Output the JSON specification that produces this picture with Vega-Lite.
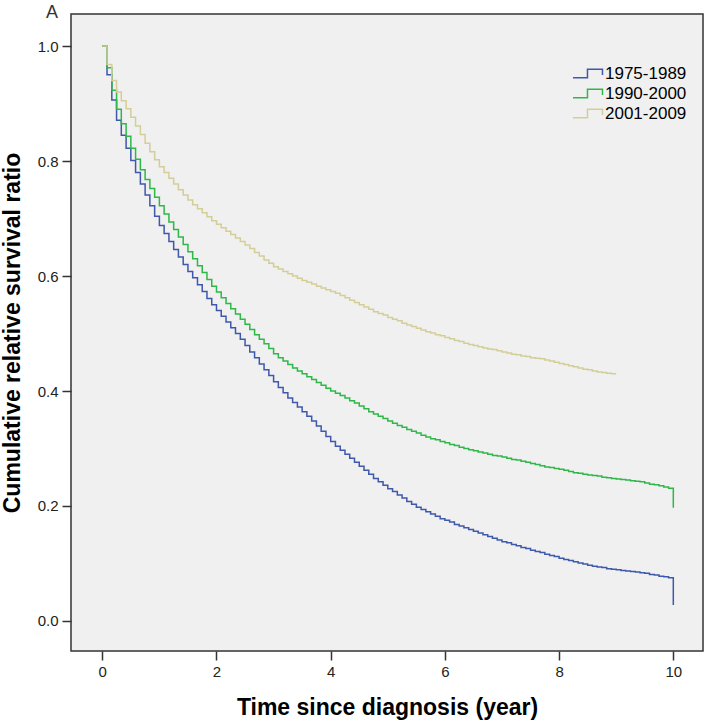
{
  "$schema": "https://vega.github.io/schema/vega-lite/v6.json",
  "width": 632,
  "height": 637,
  "autosize": {"type": "none"},
  "padding": {"left": 71, "top": 14, "right": 4, "bottom": 72},
  "background": "#ffffff",
  "title": {"text": "A", "anchor": "start", "frame": "group", "dx": -25, "offset": -8, "fontSize": 18, "fontWeight": "normal", "font": "Liberation Sans", "color": "#333333"},
  "data": {"values": [
    {"t":0,"1975-1989":1,"1990-2000":1,"2001-2009":1},
    {"t":0.083,"1975-1989":0.950,"1990-2000":0.962,"2001-2009":0.968},
    {"t":0.167,"1975-1989":0.906,"1990-2000":0.923,"2001-2009":0.940},
    {"t":0.25,"1975-1989":0.871,"1990-2000":0.890,"2001-2009":0.920},
    {"t":0.333,"1975-1989":0.845,"1990-2000":0.865,"2001-2009":0.905},
    {"t":0.417,"1975-1989":0.822,"1990-2000":0.843,"2001-2009":0.891},
    {"t":0.5,"1975-1989":0.801,"1990-2000":0.822,"2001-2009":0.876},
    {"t":0.583,"1975-1989":0.780,"1990-2000":0.803,"2001-2009":0.861},
    {"t":0.667,"1975-1989":0.760,"1990-2000":0.785,"2001-2009":0.846},
    {"t":0.75,"1975-1989":0.741,"1990-2000":0.768,"2001-2009":0.831},
    {"t":0.833,"1975-1989":0.722,"1990-2000":0.752,"2001-2009":0.816},
    {"t":0.917,"1975-1989":0.704,"1990-2000":0.737,"2001-2009":0.802},
    {"t":1,"1975-1989":0.688,"1990-2000":0.722,"2001-2009":0.790},
    {"t":1.083,"1975-1989":0.674,"1990-2000":0.708,"2001-2009":0.780},
    {"t":1.167,"1975-1989":0.660,"1990-2000":0.694,"2001-2009":0.770},
    {"t":1.25,"1975-1989":0.646,"1990-2000":0.681,"2001-2009":0.760},
    {"t":1.333,"1975-1989":0.633,"1990-2000":0.668,"2001-2009":0.750},
    {"t":1.417,"1975-1989":0.620,"1990-2000":0.655,"2001-2009":0.741},
    {"t":1.5,"1975-1989":0.608,"1990-2000":0.642,"2001-2009":0.732},
    {"t":1.583,"1975-1989":0.597,"1990-2000":0.630,"2001-2009":0.724},
    {"t":1.667,"1975-1989":0.585,"1990-2000":0.618,"2001-2009":0.717},
    {"t":1.75,"1975-1989":0.573,"1990-2000":0.606,"2001-2009":0.710},
    {"t":1.833,"1975-1989":0.561,"1990-2000":0.594,"2001-2009":0.703},
    {"t":1.917,"1975-1989":0.550,"1990-2000":0.582,"2001-2009":0.696},
    {"t":2,"1975-1989":0.540,"1990-2000":0.572,"2001-2009":0.690},
    {"t":2.083,"1975-1989":0.530,"1990-2000":0.562,"2001-2009":0.684},
    {"t":2.167,"1975-1989":0.520,"1990-2000":0.552,"2001-2009":0.678},
    {"t":2.25,"1975-1989":0.510,"1990-2000":0.543,"2001-2009":0.672},
    {"t":2.333,"1975-1989":0.500,"1990-2000":0.534,"2001-2009":0.666},
    {"t":2.417,"1975-1989":0.490,"1990-2000":0.525,"2001-2009":0.660},
    {"t":2.5,"1975-1989":0.479,"1990-2000":0.516,"2001-2009":0.654},
    {"t":2.583,"1975-1989":0.468,"1990-2000":0.507,"2001-2009":0.648},
    {"t":2.667,"1975-1989":0.458,"1990-2000":0.498,"2001-2009":0.641},
    {"t":2.75,"1975-1989":0.447,"1990-2000":0.490,"2001-2009":0.635},
    {"t":2.833,"1975-1989":0.437,"1990-2000":0.482,"2001-2009":0.628},
    {"t":2.917,"1975-1989":0.427,"1990-2000":0.474,"2001-2009":0.622},
    {"t":3,"1975-1989":0.416,"1990-2000":0.465,"2001-2009":0.616},
    {"t":3.083,"1975-1989":0.406,"1990-2000":0.458,"2001-2009":0.612},
    {"t":3.167,"1975-1989":0.397,"1990-2000":0.452,"2001-2009":0.608},
    {"t":3.25,"1975-1989":0.388,"1990-2000":0.446,"2001-2009":0.604},
    {"t":3.333,"1975-1989":0.380,"1990-2000":0.440,"2001-2009":0.600},
    {"t":3.417,"1975-1989":0.372,"1990-2000":0.435,"2001-2009":0.596},
    {"t":3.5,"1975-1989":0.364,"1990-2000":0.430,"2001-2009":0.592},
    {"t":3.583,"1975-1989":0.356,"1990-2000":0.425,"2001-2009":0.589},
    {"t":3.667,"1975-1989":0.348,"1990-2000":0.420,"2001-2009":0.586},
    {"t":3.75,"1975-1989":0.339,"1990-2000":0.415,"2001-2009":0.582},
    {"t":3.833,"1975-1989":0.330,"1990-2000":0.410,"2001-2009":0.579},
    {"t":3.917,"1975-1989":0.321,"1990-2000":0.405,"2001-2009":0.576},
    {"t":4,"1975-1989":0.312,"1990-2000":0.400,"2001-2009":0.573},
    {"t":4.083,"1975-1989":0.304,"1990-2000":0.396,"2001-2009":0.570},
    {"t":4.167,"1975-1989":0.297,"1990-2000":0.392,"2001-2009":0.566},
    {"t":4.25,"1975-1989":0.290,"1990-2000":0.388,"2001-2009":0.562},
    {"t":4.333,"1975-1989":0.283,"1990-2000":0.383,"2001-2009":0.558},
    {"t":4.417,"1975-1989":0.276,"1990-2000":0.379,"2001-2009":0.554},
    {"t":4.5,"1975-1989":0.269,"1990-2000":0.374,"2001-2009":0.550},
    {"t":4.583,"1975-1989":0.262,"1990-2000":0.369,"2001-2009":0.546},
    {"t":4.667,"1975-1989":0.255,"1990-2000":0.364,"2001-2009":0.542},
    {"t":4.75,"1975-1989":0.248,"1990-2000":0.360,"2001-2009":0.538},
    {"t":4.833,"1975-1989":0.242,"1990-2000":0.356,"2001-2009":0.535},
    {"t":4.917,"1975-1989":0.236,"1990-2000":0.352,"2001-2009":0.532},
    {"t":5,"1975-1989":0.230,"1990-2000":0.348,"2001-2009":0.528},
    {"t":5.083,"1975-1989":0.225,"1990-2000":0.344,"2001-2009":0.525},
    {"t":5.167,"1975-1989":0.219,"1990-2000":0.340,"2001-2009":0.522},
    {"t":5.25,"1975-1989":0.214,"1990-2000":0.337,"2001-2009":0.518},
    {"t":5.333,"1975-1989":0.208,"1990-2000":0.333,"2001-2009":0.515},
    {"t":5.417,"1975-1989":0.203,"1990-2000":0.330,"2001-2009":0.512},
    {"t":5.5,"1975-1989":0.198,"1990-2000":0.327,"2001-2009":0.509},
    {"t":5.583,"1975-1989":0.194,"1990-2000":0.323,"2001-2009":0.506},
    {"t":5.667,"1975-1989":0.190,"1990-2000":0.320,"2001-2009":0.503},
    {"t":5.75,"1975-1989":0.186,"1990-2000":0.317,"2001-2009":0.501},
    {"t":5.833,"1975-1989":0.182,"1990-2000":0.315,"2001-2009":0.498},
    {"t":5.917,"1975-1989":0.178,"1990-2000":0.312,"2001-2009":0.496},
    {"t":6,"1975-1989":0.175,"1990-2000":0.310,"2001-2009":0.493},
    {"t":6.083,"1975-1989":0.172,"1990-2000":0.307,"2001-2009":0.491},
    {"t":6.167,"1975-1989":0.168,"1990-2000":0.305,"2001-2009":0.488},
    {"t":6.25,"1975-1989":0.165,"1990-2000":0.302,"2001-2009":0.486},
    {"t":6.333,"1975-1989":0.162,"1990-2000":0.300,"2001-2009":0.483},
    {"t":6.417,"1975-1989":0.159,"1990-2000":0.298,"2001-2009":0.481},
    {"t":6.5,"1975-1989":0.156,"1990-2000":0.296,"2001-2009":0.479},
    {"t":6.583,"1975-1989":0.153,"1990-2000":0.294,"2001-2009":0.477},
    {"t":6.667,"1975-1989":0.150,"1990-2000":0.292,"2001-2009":0.475},
    {"t":6.75,"1975-1989":0.147,"1990-2000":0.290,"2001-2009":0.473},
    {"t":6.833,"1975-1989":0.144,"1990-2000":0.288,"2001-2009":0.472},
    {"t":6.917,"1975-1989":0.141,"1990-2000":0.287,"2001-2009":0.470},
    {"t":7,"1975-1989":0.138,"1990-2000":0.285,"2001-2009":0.468},
    {"t":7.083,"1975-1989":0.136,"1990-2000":0.283,"2001-2009":0.466},
    {"t":7.167,"1975-1989":0.133,"1990-2000":0.281,"2001-2009":0.464},
    {"t":7.25,"1975-1989":0.131,"1990-2000":0.280,"2001-2009":0.463},
    {"t":7.333,"1975-1989":0.128,"1990-2000":0.278,"2001-2009":0.461},
    {"t":7.417,"1975-1989":0.126,"1990-2000":0.276,"2001-2009":0.460},
    {"t":7.5,"1975-1989":0.123,"1990-2000":0.274,"2001-2009":0.458},
    {"t":7.583,"1975-1989":0.121,"1990-2000":0.272,"2001-2009":0.457},
    {"t":7.667,"1975-1989":0.119,"1990-2000":0.270,"2001-2009":0.456},
    {"t":7.75,"1975-1989":0.116,"1990-2000":0.268,"2001-2009":0.454},
    {"t":7.833,"1975-1989":0.114,"1990-2000":0.267,"2001-2009":0.452},
    {"t":7.917,"1975-1989":0.112,"1990-2000":0.265,"2001-2009":0.450},
    {"t":8,"1975-1989":0.109,"1990-2000":0.264,"2001-2009":0.448},
    {"t":8.083,"1975-1989":0.107,"1990-2000":0.262,"2001-2009":0.446},
    {"t":8.167,"1975-1989":0.105,"1990-2000":0.260,"2001-2009":0.444},
    {"t":8.25,"1975-1989":0.103,"1990-2000":0.258,"2001-2009":0.442},
    {"t":8.333,"1975-1989":0.101,"1990-2000":0.257,"2001-2009":0.440},
    {"t":8.417,"1975-1989":0.099,"1990-2000":0.255,"2001-2009":0.438},
    {"t":8.5,"1975-1989":0.097,"1990-2000":0.254,"2001-2009":0.437},
    {"t":8.583,"1975-1989":0.095,"1990-2000":0.253,"2001-2009":0.435},
    {"t":8.667,"1975-1989":0.094,"1990-2000":0.252,"2001-2009":0.433},
    {"t":8.75,"1975-1989":0.093,"1990-2000":0.250,"2001-2009":0.432},
    {"t":8.833,"1975-1989":0.091,"1990-2000":0.249,"2001-2009":0.431},
    {"t":8.917,"1975-1989":0.090,"1990-2000":0.248,"2001-2009":0.430},
    {"t":9,"1975-1989":0.089,"1990-2000":0.247,"2001-2009":0.430},
    {"t":9.083,"1975-1989":0.088,"1990-2000":0.246},
    {"t":9.167,"1975-1989":0.087,"1990-2000":0.245},
    {"t":9.25,"1975-1989":0.086,"1990-2000":0.244},
    {"t":9.333,"1975-1989":0.085,"1990-2000":0.243},
    {"t":9.417,"1975-1989":0.084,"1990-2000":0.242},
    {"t":9.5,"1975-1989":0.083,"1990-2000":0.240},
    {"t":9.583,"1975-1989":0.081,"1990-2000":0.238},
    {"t":9.667,"1975-1989":0.080,"1990-2000":0.237},
    {"t":9.75,"1975-1989":0.078,"1990-2000":0.235},
    {"t":9.833,"1975-1989":0.077,"1990-2000":0.233},
    {"t":9.917,"1975-1989":0.075,"1990-2000":0.231},
    {"t":10,"1975-1989":0.028,"1990-2000":0.197}
  ]},
  "transform": [
    {"fold": ["1975-1989", "1990-2000", "2001-2009"], "as": ["period", "ratio"]},
    {"filter": "isValid(datum.ratio)"}
  ],
  "mark": {"type": "line", "interpolate": "step-after", "strokeWidth": 1.5},
  "encoding": {
    "x": {"field": "t", "type": "quantitative",
      "scale": {"domain": [-0.548, 10.52], "nice": false, "zero": false},
      "axis": {"values": [0, 2, 4, 6, 8, 10], "title": "Time since diagnosis (year)", "titlePadding": 17}},
    "y": {"field": "ratio", "type": "quantitative",
      "scale": {"domain": [-0.0522, 1.0557], "nice": false, "zero": false},
      "axis": {"values": [0, 0.2, 0.4, 0.6, 0.8, 1.0], "format": ".1f", "title": "Cumulative relative survival ratio", "titlePadding": 13}},
    "color": {"field": "period", "type": "nominal",
      "scale": {"domain": ["1975-1989", "1990-2000", "2001-2009"], "range": ["#3E58AC", "#2EB848", "#D3CE97"]},
      "legend": {"title": null, "orient": "none", "legendX": 501, "legendY": 51,
        "symbolType": "M-1,0.57H0.93V-0.57H2.93V0.2", "symbolSize": 225, "symbolStrokeWidth": 1.5,
        "symbolFillColor": "transparent", "labelOffset": 16, "labelFontSize": 17,
        "labelFont": "Liberation Sans", "labelColor": "#000000", "rowPadding": 2}}
  },
  "config": {
    "view": {"fill": "#F0F0F0", "stroke": "#333333", "strokeWidth": 1.5},
    "axis": {"grid": false, "domain": false, "tickColor": "#333333", "tickWidth": 1.5, "tickSize": 9,
      "labelFont": "Liberation Sans", "labelFontSize": 15, "labelColor": "#222222", "labelPadding": 4,
      "titleFont": "Liberation Sans", "titleFontSize": 23, "titleFontWeight": "bold", "titleColor": "#000000"}
  }
}
